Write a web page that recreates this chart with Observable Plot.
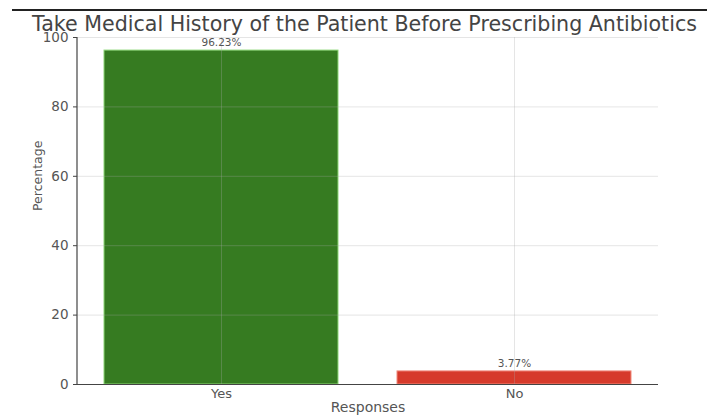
<!DOCTYPE html>
<html>
<head>
<meta charset="utf-8">
<script src="https://cdn.jsdelivr.net/npm/d3@7"></script>
<script src="https://cdn.jsdelivr.net/npm/@observablehq/plot@0.6"></script>
<style>
  html, body { margin: 0; padding: 0; background: #fff; }
  #wrap { position: relative; width: 707px; height: 417px; overflow: hidden; }
  #rule { position: absolute; top: 9px; left: 12px; right: 0; height: 2px; background: #222; }
  #title {
    position: absolute; top: 16px; left: 0; width: 707px; text-align: center;
    font-family: "DejaVu Sans", sans-serif; font-size: 20.6px; line-height: 16px; color: #444;
    white-space: nowrap; margin-left: 11px;
  }
  #chart { position: absolute; top: 0; left: 0; }
</style>
</head>
<body>
<div id="wrap">
  <div id="chart"></div>
  <div id="rule"></div>
  <div id="title">Take Medical History of the Patient Before Prescribing Antibiotics</div>
</div>
<script>
// Survey responses and their shares
const responses = ["Yes", "No"];
const percentages = [96.23, 3.77];
const barColors = ["#367b21", "#d63a2b"];
const barEdges = ["#8ed879", "#f08a7c"];
const yTicks = [0, 20, 40, 60, 80, 100];

const rows = responses.map((r, i) => ({
  response: r,
  value: percentages[i],
  fill: barColors[i],
  edge: barEdges[i],
  label: percentages[i].toFixed(2) + "%"
}));

// Left spine drawn from the frame dimensions
const leftSpine = (index, scales, values, dims) => {
  const g = d3.create("svg:g");
  g.append("line")
    .attr("x1", dims.marginLeft).attr("x2", dims.marginLeft)
    .attr("y1", dims.marginTop).attr("y2", dims.height - dims.marginBottom)
    .attr("stroke", "#444").attr("stroke-width", 1.2);
  return g.node();
};

const chart = Plot.plot({
  width: 707,
  height: 417,
  marginTop: 37,
  marginBottom: 33,
  marginLeft: 77,
  marginRight: 49,
  style: { fontFamily: "DejaVu Sans, sans-serif", background: "transparent", color: "#555", overflow: "visible" },
  x: { domain: responses, paddingInner: 0.2, paddingOuter: 0.09, label: null },
  y: { domain: [0, 100], label: null },
  marks: [
    Plot.barY(rows, { x: "response", y: "value", fill: "fill", stroke: "edge", strokeWidth: 1 }),
    Plot.gridY(yTicks.slice(1), { stroke: "#aaa", strokeOpacity: 0.3, strokeWidth: 1 }),
    Plot.gridX(responses, { stroke: "#aaa", strokeOpacity: 0.3, strokeWidth: 1 }),
    Plot.text(rows, { x: "response", y: "value", text: "label", dy: -8, fontSize: 10.5, fill: "#555" }),
    Plot.ruleY([0], { stroke: "#444", strokeWidth: 1.2 }),
    leftSpine,
    Plot.axisY({ ticks: yTicks, tickSize: 4, tickPadding: 5, fontSize: 13.5, label: null, stroke: "#444" }),
    Plot.axisX({ tickSize: 0, tickPadding: 4, fontSize: 13, label: null }),
    Plot.text(["Percentage"], { text: d => d, frameAnchor: "left", dx: -40, rotate: -90, fontSize: 12.5, fill: "#555" }),
    Plot.text(["Responses"], { text: d => d, frameAnchor: "bottom", dy: 27, fontSize: 14, fill: "#555" })
  ]
});

document.getElementById("chart").appendChild(chart);
</script>
</body>
</html>
